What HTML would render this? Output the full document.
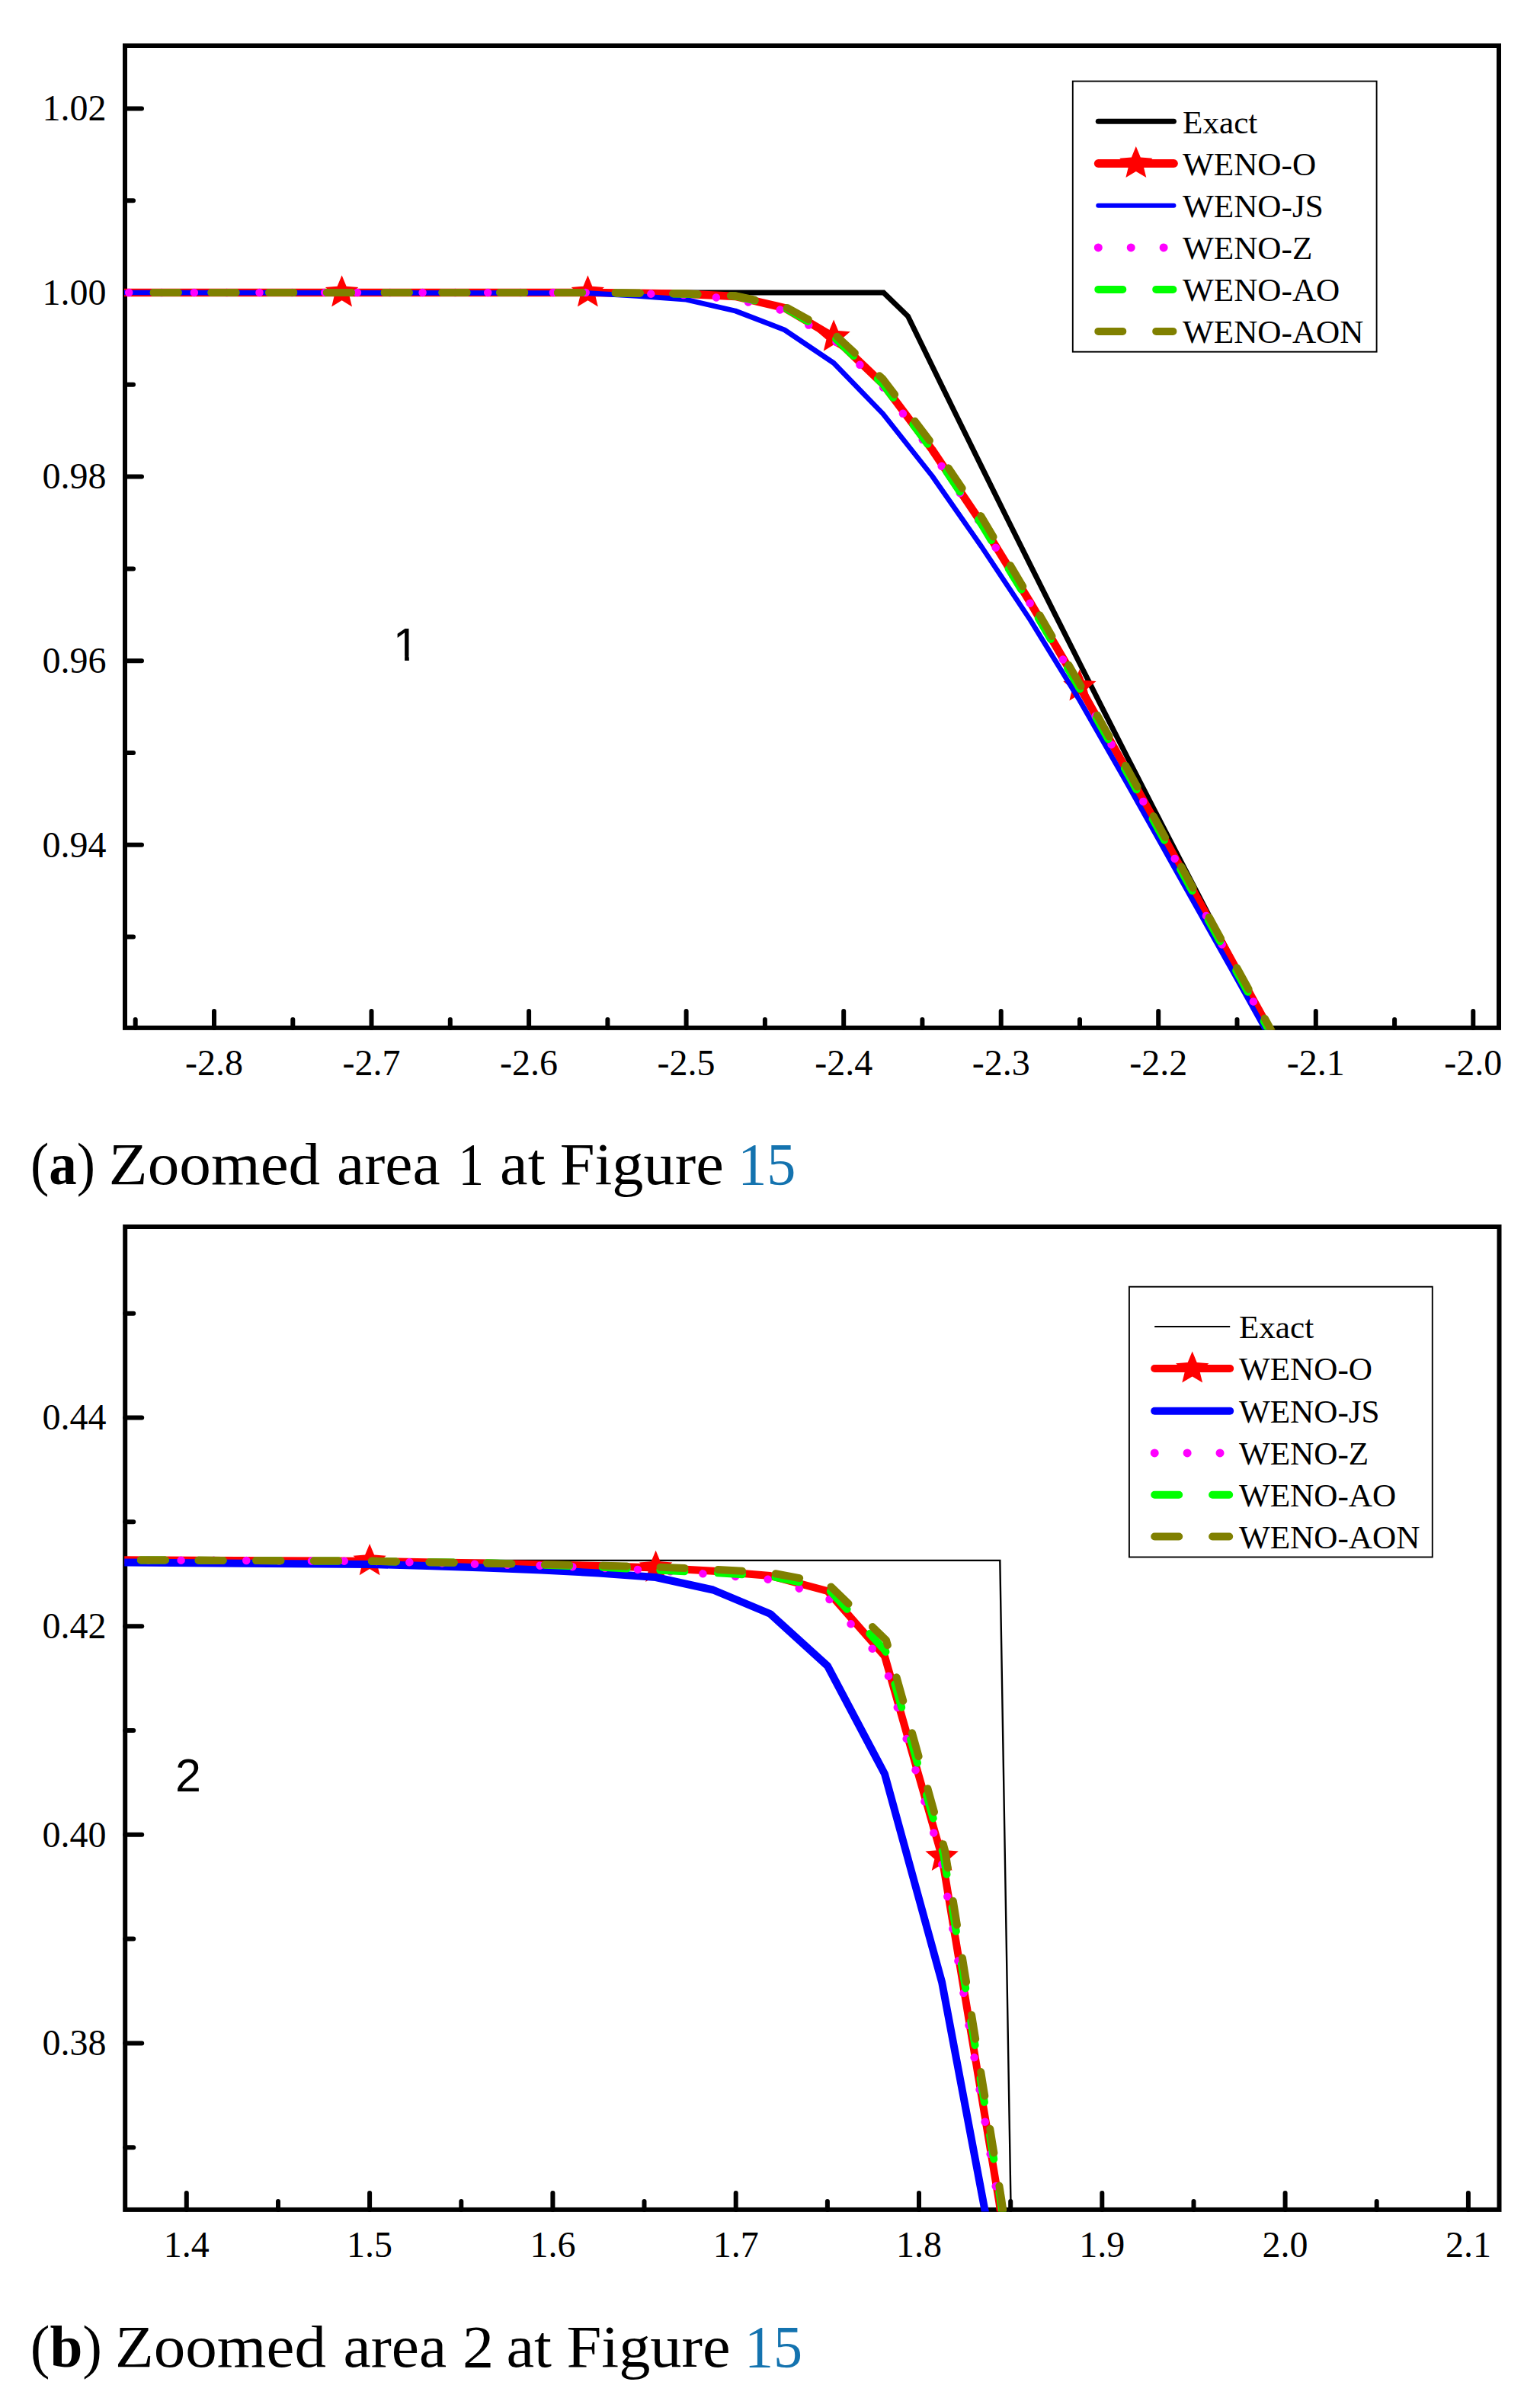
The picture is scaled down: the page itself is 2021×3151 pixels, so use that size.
<!DOCTYPE html>
<html lang="en"><head><meta charset="utf-8"><title>Zoomed areas at Figure 15</title>
<style>html,body{margin:0;padding:0;background:#fff}svg{display:block}</style></head><body>
<svg width="2021" height="3151" viewBox="0 0 2021 3151">
<rect width="2021" height="3151" fill="#fff"/>
<defs><clipPath id="c1"><rect x="163.0" y="60.0" width="1804.0" height="1291.4"/></clipPath>
<clipPath id="c2"><rect x="163.2" y="1610.0" width="1804.3" height="1292.4"/></clipPath></defs>
<g stroke="#000" stroke-width="6" fill="none" stroke-linecap="round">
<line x1="281.0" y1="1348.9" x2="281.0" y2="1326.9"/>
<line x1="487.5" y1="1348.9" x2="487.5" y2="1326.9"/>
<line x1="694.1" y1="1348.9" x2="694.1" y2="1326.9"/>
<line x1="900.6" y1="1348.9" x2="900.6" y2="1326.9"/>
<line x1="1107.2" y1="1348.9" x2="1107.2" y2="1326.9"/>
<line x1="1313.7" y1="1348.9" x2="1313.7" y2="1326.9"/>
<line x1="1520.2" y1="1348.9" x2="1520.2" y2="1326.9"/>
<line x1="1726.8" y1="1348.9" x2="1726.8" y2="1326.9"/>
<line x1="1933.3" y1="1348.9" x2="1933.3" y2="1326.9"/>
<line x1="177.7" y1="1348.9" x2="177.7" y2="1337.9"/>
<line x1="384.3" y1="1348.9" x2="384.3" y2="1337.9"/>
<line x1="590.8" y1="1348.9" x2="590.8" y2="1337.9"/>
<line x1="797.4" y1="1348.9" x2="797.4" y2="1337.9"/>
<line x1="1003.9" y1="1348.9" x2="1003.9" y2="1337.9"/>
<line x1="1210.4" y1="1348.9" x2="1210.4" y2="1337.9"/>
<line x1="1417.0" y1="1348.9" x2="1417.0" y2="1337.9"/>
<line x1="1623.5" y1="1348.9" x2="1623.5" y2="1337.9"/>
<line x1="1830.1" y1="1348.9" x2="1830.1" y2="1337.9"/>
<line x1="164.0" y1="142.4" x2="186.0" y2="142.4"/>
<line x1="164.0" y1="384.0" x2="186.0" y2="384.0"/>
<line x1="164.0" y1="625.6" x2="186.0" y2="625.6"/>
<line x1="164.0" y1="867.2" x2="186.0" y2="867.2"/>
<line x1="164.0" y1="1108.8" x2="186.0" y2="1108.8"/>
<line x1="164.0" y1="263.2" x2="175.0" y2="263.2"/>
<line x1="164.0" y1="504.8" x2="175.0" y2="504.8"/>
<line x1="164.0" y1="746.4" x2="175.0" y2="746.4"/>
<line x1="164.0" y1="988.0" x2="175.0" y2="988.0"/>
<line x1="164.0" y1="1229.6" x2="175.0" y2="1229.6"/>
</g>
<rect x="164.0" y="60.0" width="1803.0" height="1288.9" fill="none" stroke="#000" stroke-width="6"/>
<g font-family='"Liberation Serif", "DejaVu Serif", serif' font-size="48" fill="#000">
<text x="281.0" y="1411.4" text-anchor="middle">-2.8</text>
<text x="487.5" y="1411.4" text-anchor="middle">-2.7</text>
<text x="694.1" y="1411.4" text-anchor="middle">-2.6</text>
<text x="900.6" y="1411.4" text-anchor="middle">-2.5</text>
<text x="1107.2" y="1411.4" text-anchor="middle">-2.4</text>
<text x="1313.7" y="1411.4" text-anchor="middle">-2.3</text>
<text x="1520.2" y="1411.4" text-anchor="middle">-2.2</text>
<text x="1726.8" y="1411.4" text-anchor="middle">-2.1</text>
<text x="1933.3" y="1411.4" text-anchor="middle">-2.0</text>
<text x="139.5" y="158.1" text-anchor="end">1.02</text>
<text x="139.5" y="399.7" text-anchor="end">1.00</text>
<text x="139.5" y="641.3" text-anchor="end">0.98</text>
<text x="139.5" y="882.9" text-anchor="end">0.96</text>
<text x="139.5" y="1124.5" text-anchor="end">0.94</text>
</g>
<g clip-path="url(#c1)" fill="none" stroke-linejoin="round">
<polyline points="160.0,384.0 1159.5,384.0 1191.5,415.0 1224.0,481.8 1256.3,547.8 1288.6,613.4 1320.9,678.7 1353.2,743.6 1385.5,808.1 1417.8,872.3 1450.1,936.1 1482.4,999.5 1514.7,1062.5 1547.0,1125.1 1579.3,1187.4 1611.6,1249.3 1643.9,1310.8 1676.2,1371.9" stroke="#000" stroke-width="7" stroke-linejoin="miter"/>
<polyline points="160.0,384.0 771.4,384.0 835.9,384.7 900.5,385.7 965.0,389.0 1029.5,404.0 1094.1,442.3 1158.7,504.0 1223.2,590.0 1287.8,686.0 1352.3,791.0 1416.8,901.0 1481.4,1015.5 1545.9,1132.5 1610.5,1250.0 1675.1,1367.5" stroke="#ff0000" stroke-width="10.4"/>
<polygon points="448.6,361.2 454.6,375.7 470.3,377.0 458.3,387.2 462.0,402.4 448.6,394.2 435.2,402.4 438.9,387.2 426.9,377.0 442.6,375.7" fill="#ff0000"/>
<polygon points="771.4,361.2 777.3,375.7 793.0,377.0 781.1,387.2 784.8,402.4 771.4,394.2 757.9,402.4 761.6,387.2 749.7,377.0 765.4,375.7" fill="#ff0000"/>
<polygon points="1094.1,419.5 1100.1,434.0 1115.8,435.3 1103.8,445.5 1107.5,460.7 1094.1,452.5 1080.7,460.7 1084.4,445.5 1072.4,435.3 1088.1,434.0" fill="#ff0000"/>
<polygon points="1416.8,878.2 1422.8,892.7 1438.5,894.0 1426.6,904.2 1430.3,919.4 1416.8,911.2 1403.4,919.4 1407.1,904.2 1395.2,894.0 1410.9,892.7" fill="#ff0000"/>
<polyline points="160.0,384.0 771.4,384.7 835.9,388.3 900.5,393.2 965.0,408.0 1029.5,432.9 1094.1,476.4 1158.7,543.0 1223.2,624.5 1287.8,717.0 1352.3,814.0 1416.8,919.0 1481.4,1032.0 1545.9,1147.0 1610.5,1262.0 1675.1,1378.0" stroke="#0000ff" stroke-width="6.7"/>
<polyline points="160.0,384.0 771.4,384.0 835.9,385.2 900.5,387.2 965.0,392.5 1029.5,408.0 1094.1,445.8 1158.7,508.0 1223.2,593.5 1287.8,688.0 1352.3,792.7 1416.8,903.0 1481.4,1017.5 1545.9,1134.5 1610.5,1252.0 1675.1,1369.5" stroke="#ff00ff" stroke-width="10.5" stroke-linecap="round" stroke-dasharray="0.01 42.81" stroke-dashoffset="33.62"/>
<polyline points="160.0,384.0 771.4,384.0 835.9,384.7 900.5,385.7 965.0,388.5 1029.5,403.5 1094.1,442.0 1158.7,504.0 1223.2,590.5 1287.8,687.5 1352.3,793.5 1416.8,903.5 1481.4,1018.0 1545.9,1135.0 1610.5,1252.5 1675.1,1370.0" stroke="#00ff00" stroke-width="10" stroke-linecap="round" stroke-dasharray="32 43.75" stroke-dashoffset="34.05"/>
<polyline points="160.0,384.0 771.4,384.0 835.9,384.7 900.5,385.4 965.0,388.2 1029.5,402.0 1094.1,437.7 1158.7,497.5 1223.2,582.5 1287.8,678.0 1352.3,786.5 1416.8,897.5 1481.4,1012.5 1545.9,1129.5 1610.5,1247.0 1675.1,1364.5" stroke="#808000" stroke-width="10" stroke-linecap="round" stroke-dasharray="32 43.75" stroke-dashoffset="34.05"/>
</g>
<text x="515.7" y="867.0" font-family='"Liberation Sans", "DejaVu Sans", sans-serif' font-size="61" fill="#000">1</text>
<rect x="516" y="860.6" width="15.1" height="8.5" fill="#fff"/><rect x="536.8" y="860.6" width="13" height="8.5" fill="#fff"/>
<rect x="1407.8" y="106.6" width="398.8" height="355.1" fill="#fff" stroke="#000" stroke-width="1.9"/>
<g fill="none" stroke-linecap="round">
<line x1="1441.3" x2="1540.4" y1="159.3" y2="159.3" stroke="#000" stroke-width="7" stroke-linecap="round"/>
<line x1="1441.3" x2="1540.4" y1="214.5" y2="214.5" stroke="#ff0000" stroke-width="10.9"/>
<line x1="1441.3" x2="1540.4" y1="269.8" y2="269.8" stroke="#0000ff" stroke-width="6.1"/>
<line x1="1441.3" x2="1540.4" y1="324.9" y2="324.9" stroke="#ff00ff" stroke-width="11" stroke-dasharray="0.01 42.9"/>
<line x1="1441.3" x2="1539.4" y1="379.9" y2="379.9" stroke="#00ff00" stroke-width="10" stroke-dasharray="32 43.9"/>
<line x1="1441.3" x2="1539.4" y1="434.9" y2="434.9" stroke="#808000" stroke-width="10" stroke-dasharray="32 43.9"/>
</g>
<polygon points="1490.8,191.9 1496.8,206.4 1512.5,207.7 1500.6,217.9 1504.3,233.1 1490.8,224.9 1477.4,233.1 1481.1,217.9 1469.2,207.7 1484.9,206.4" fill="#ff0000"/>
<g font-family='"Liberation Serif", "DejaVu Serif", serif' font-size="43.2" fill="#000">
<text x="1552.0" y="174.5">Exact</text>
<text x="1552.0" y="229.7">WENO-O</text>
<text x="1552.0" y="285.0">WENO-JS</text>
<text x="1552.0" y="340.1">WENO-Z</text>
<text x="1552.0" y="395.1">WENO-AO</text>
<text x="1552.0" y="450.1">WENO-AON</text>
</g>
<g font-family='"Liberation Serif", "DejaVu Serif", serif' font-size="77.5" fill="#000">
<text transform="translate(39.98 1554.2) scale(0.9405 1)">(<tspan font-weight="bold">a</tspan>)</text>
<text transform="translate(142.79 1554.2) scale(1.0744 1)">Zoomed</text>
<text transform="translate(442.04 1554.2) scale(1.0503 1)">area</text>
<text transform="translate(601.38 1554.2) scale(0.8651 1)">1</text>
<text transform="translate(656.11 1554.2) scale(1.0618 1)">at</text>
<text transform="translate(734.64 1554.2) scale(1.0635 1)">Figure</text>
<text transform="translate(968.27 1554.2) scale(0.9832 1)" fill="#1473af">15</text>
</g>
<g stroke="#000" stroke-width="6" fill="none" stroke-linecap="round">
<line x1="244.8" y1="2899.9" x2="244.8" y2="2877.9"/>
<line x1="485.1" y1="2899.9" x2="485.1" y2="2877.9"/>
<line x1="725.4" y1="2899.9" x2="725.4" y2="2877.9"/>
<line x1="965.7" y1="2899.9" x2="965.7" y2="2877.9"/>
<line x1="1206.0" y1="2899.9" x2="1206.0" y2="2877.9"/>
<line x1="1446.3" y1="2899.9" x2="1446.3" y2="2877.9"/>
<line x1="1686.6" y1="2899.9" x2="1686.6" y2="2877.9"/>
<line x1="1926.9" y1="2899.9" x2="1926.9" y2="2877.9"/>
<line x1="365.0" y1="2899.9" x2="365.0" y2="2888.9"/>
<line x1="605.3" y1="2899.9" x2="605.3" y2="2888.9"/>
<line x1="845.5" y1="2899.9" x2="845.5" y2="2888.9"/>
<line x1="1085.9" y1="2899.9" x2="1085.9" y2="2888.9"/>
<line x1="1326.2" y1="2899.9" x2="1326.2" y2="2888.9"/>
<line x1="1566.5" y1="2899.9" x2="1566.5" y2="2888.9"/>
<line x1="1806.7" y1="2899.9" x2="1806.7" y2="2888.9"/>
<line x1="164.2" y1="1860.5" x2="186.2" y2="1860.5"/>
<line x1="164.2" y1="2134.2" x2="186.2" y2="2134.2"/>
<line x1="164.2" y1="2407.8" x2="186.2" y2="2407.8"/>
<line x1="164.2" y1="2681.4" x2="186.2" y2="2681.4"/>
<line x1="164.2" y1="1723.7" x2="175.2" y2="1723.7"/>
<line x1="164.2" y1="1997.3" x2="175.2" y2="1997.3"/>
<line x1="164.2" y1="2271.0" x2="175.2" y2="2271.0"/>
<line x1="164.2" y1="2544.6" x2="175.2" y2="2544.6"/>
<line x1="164.2" y1="2818.3" x2="175.2" y2="2818.3"/>
</g>
<rect x="164.2" y="1610.0" width="1803.3" height="1289.9" fill="none" stroke="#000" stroke-width="6"/>
<g font-family='"Liberation Serif", "DejaVu Serif", serif' font-size="48" fill="#000">
<text x="244.8" y="2962.4" text-anchor="middle">1.4</text>
<text x="485.1" y="2962.4" text-anchor="middle">1.5</text>
<text x="725.4" y="2962.4" text-anchor="middle">1.6</text>
<text x="965.7" y="2962.4" text-anchor="middle">1.7</text>
<text x="1206.0" y="2962.4" text-anchor="middle">1.8</text>
<text x="1446.3" y="2962.4" text-anchor="middle">1.9</text>
<text x="1686.6" y="2962.4" text-anchor="middle">2.0</text>
<text x="1926.9" y="2962.4" text-anchor="middle">2.1</text>
<text x="139.5" y="1876.2" text-anchor="end">0.44</text>
<text x="139.5" y="2149.8" text-anchor="end">0.42</text>
<text x="139.5" y="2423.5" text-anchor="end">0.40</text>
<text x="139.5" y="2697.1" text-anchor="end">0.38</text>
</g>
<g clip-path="url(#c2)" fill="none" stroke-linejoin="round">
<polyline points="160.0,2047.9 1312.3,2047.9 1326.7,2905.0" stroke="#000" stroke-width="2.4" stroke-linejoin="miter"/>
<polyline points="160.0,2047.3 485.1,2048.8 560.2,2050.2 635.3,2051.6 710.4,2053.2 785.5,2055.0 860.6,2057.5 935.7,2061.8 1010.8,2068.0 1085.9,2088.0 1161.0,2173.5 1236.1,2436.5 1311.2,2890.0 1386.3,3400.0" stroke="#ff0000" stroke-width="10"/>
<polygon points="485.1,2026.0 491.1,2040.5 506.8,2041.8 494.8,2052.0 498.5,2067.2 485.1,2059.0 471.7,2067.2 475.4,2052.0 463.4,2041.8 479.1,2040.5" fill="#ff0000"/>
<polygon points="860.6,2034.7 866.6,2049.2 882.3,2050.5 870.3,2060.7 874.0,2075.9 860.6,2067.7 847.2,2075.9 850.9,2060.7 838.9,2050.5 854.6,2049.2" fill="#ff0000"/>
<polygon points="1236.1,2413.7 1242.1,2428.2 1257.8,2429.5 1245.8,2439.7 1249.5,2454.9 1236.1,2446.7 1222.7,2454.9 1226.4,2439.7 1214.4,2429.5 1230.1,2428.2" fill="#ff0000"/>
<polyline points="160.0,2050.4 485.1,2053.0 560.2,2055.0 635.3,2057.5 710.4,2060.5 785.5,2064.5 860.6,2070.0 935.7,2086.5 1010.8,2118.0 1085.9,2186.2 1161.0,2328.0 1236.1,2601.4 1311.2,3000.0" stroke="#0000ff" stroke-width="10"/>
<polyline points="160.0,2047.3 485.1,2048.8 560.2,2050.9 635.3,2053.1 710.4,2054.7 785.5,2057.5 860.6,2061.0 935.7,2066.3 1010.8,2073.0 1085.9,2096.0 1161.0,2182.5 1235.1,2439.5 1310.2,2890.0 1386.3,3400.0" stroke="#ff00ff" stroke-width="10.5" stroke-linecap="round" stroke-dasharray="0.01 42.81" stroke-dashoffset="8.00"/>
<polyline points="160.0,2047.3 485.1,2048.8 560.2,2050.2 635.3,2051.1 710.4,2053.7 785.5,2056.5 860.6,2060.5 935.7,2064.0 1010.8,2068.5 1085.9,2084.0 1162.0,2166.5 1238.1,2433.5 1313.2,2888.0 1386.3,3400.0" stroke="#00ff00" stroke-width="10" stroke-linecap="round" stroke-dasharray="32 43.75" stroke-dashoffset="50.90"/>
<polyline points="160.0,2047.3 485.1,2048.8 560.2,2050.2 635.3,2051.6 710.4,2053.2 785.5,2054.5 860.6,2056.5 935.7,2059.5 1010.8,2064.0 1085.9,2078.0 1163.0,2152.5 1240.1,2428.5 1314.2,2886.0 1386.3,3400.0" stroke="#808000" stroke-width="10" stroke-linecap="round" stroke-dasharray="32 43.75" stroke-dashoffset="50.90"/>
</g>
<text x="229.9" y="2351.3" font-family='"Liberation Sans", "DejaVu Sans", sans-serif' font-size="61" fill="#000">2</text>
<rect x="1481.9" y="1688.7" width="397.9" height="354.8" fill="#fff" stroke="#000" stroke-width="1.9"/>
<g fill="none" stroke-linecap="round">
<line x1="1515.2" x2="1614.2" y1="1741.0" y2="1741.0" stroke="#000" stroke-width="2.2" stroke-linecap="butt"/>
<line x1="1515.2" x2="1614.2" y1="1796.0" y2="1796.0" stroke="#ff0000" stroke-width="10"/>
<line x1="1515.2" x2="1614.2" y1="1851.8" y2="1851.8" stroke="#0000ff" stroke-width="10"/>
<line x1="1515.2" x2="1614.2" y1="1906.9" y2="1906.9" stroke="#ff00ff" stroke-width="11" stroke-dasharray="0.01 42.9"/>
<line x1="1515.2" x2="1613.2" y1="1961.7" y2="1961.7" stroke="#00ff00" stroke-width="10" stroke-dasharray="32 43.9"/>
<line x1="1515.2" x2="1613.2" y1="2016.5" y2="2016.5" stroke="#808000" stroke-width="10" stroke-dasharray="32 43.9"/>
</g>
<polygon points="1564.7,1773.4 1570.7,1787.9 1586.4,1789.2 1574.4,1799.4 1578.1,1814.6 1564.7,1806.4 1551.3,1814.6 1555.0,1799.4 1543.0,1789.2 1558.7,1787.9" fill="#ff0000"/>
<g font-family='"Liberation Serif", "DejaVu Serif", serif' font-size="43.2" fill="#000">
<text x="1625.9" y="1756.2">Exact</text>
<text x="1625.9" y="1811.2">WENO-O</text>
<text x="1625.9" y="1867.0">WENO-JS</text>
<text x="1625.9" y="1922.1">WENO-Z</text>
<text x="1625.9" y="1976.9">WENO-AO</text>
<text x="1625.9" y="2031.7">WENO-AON</text>
</g>
<g font-family='"Liberation Serif", "DejaVu Serif", serif' font-size="77.5" fill="#000">
<text transform="translate(39.79 3105.7) scale(0.9952 1)">(<tspan font-weight="bold">b</tspan>)</text>
<text transform="translate(151.00 3105.7) scale(1.0724 1)">Zoomed</text>
<text transform="translate(450.54 3105.7) scale(1.0511 1)">area</text>
<text transform="translate(607.07 3105.7) scale(1.0611 1)">2</text>
<text transform="translate(664.40 3105.7) scale(1.0656 1)">at</text>
<text transform="translate(743.44 3105.7) scale(1.0635 1)">Figure</text>
<text transform="translate(976.88 3105.7) scale(0.9818 1)" fill="#1473af">15</text>
</g>
</svg></body></html>
